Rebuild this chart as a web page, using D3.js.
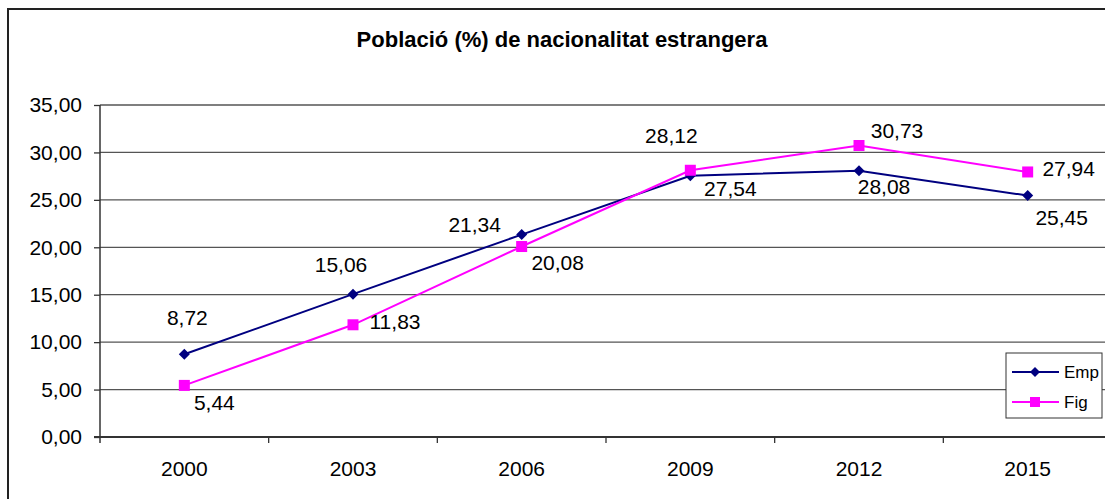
<!DOCTYPE html>
<html>
<head>
<meta charset="utf-8">
<script src="https://cdn.jsdelivr.net/npm/d3@7"></script>
<style>
  body { margin: 0; background: #fff; }
  text { font-family: "Liberation Sans", Arial, sans-serif; fill: #000; }
</style>
</head>
<body>
<script>
var years = ["2000", "2003", "2006", "2009", "2012", "2015"];
var empValues = [8.72, 15.06, 21.34, 27.54, 28.08, 25.45];
var figValues = [5.44, 11.83, 20.08, 28.12, 30.73, 27.94];
var yTicks = [0, 5, 10, 15, 20, 25, 30, 35];
var seriesNames = ["Emp", "Fig"];

var width = 1105, height = 499;
var plotLeft = 100, plotTop = 105, plotBottom = 437, plotRight = 1112;

// where each value label sits relative to its point (dx, baseline dy)
var labelNudge = {
  Emp: [[3, -29], [-12, -22], [-47, -3], [40, 20], [25, 23], [34, 29]],
  Fig: [[30, 25], [42, 4], [36, 23], [-19, -27], [38, -8], [41, 4]]
};

function comma(v) {
  return d3.format(".2f")(v).replace(".", ",");
}

function marker(sel, type, s) {
  if (type === "Emp") {
    sel.append("path")
      .attr("d", "M0," + (-s) + "L" + s + ",0L0," + s + "L" + (-s) + ",0Z")
      .attr("fill", "#000080");
  } else {
    sel.append("rect")
      .attr("x", -s).attr("y", -s)
      .attr("width", 2 * s).attr("height", 2 * s)
      .attr("fill", "#ff00ff");
  }
}

var svg = d3.select("body").append("svg").attr("width", width).attr("height", height);

// outer frame (goes past the right / bottom edge like the original)
svg.append("rect")
  .attr("x", 8).attr("y", 9)
  .attr("width", 1110).attr("height", 500)
  .attr("fill", "#fff")
  .attr("stroke", "#222")
  .attr("stroke-width", 2);

svg.append("text")
  .attr("x", 562).attr("y", 47)
  .attr("text-anchor", "middle")
  .style("font-size", "22px")
  .style("font-weight", "bold")
  .text("Població (%) de nacionalitat estrangera");

var x = d3.scaleBand().domain(years).range([plotLeft, plotRight]).paddingInner(0).paddingOuter(0);
var y = d3.scaleLinear().domain([0, 35]).range([plotBottom, plotTop]);

// gridlines
svg.append("g").selectAll("line")
  .data(yTicks.filter(function(d) { return d > 0; }))
  .enter().append("line")
  .attr("x1", plotLeft).attr("x2", plotRight)
  .attr("y1", function(d) { return y(d); })
  .attr("y2", function(d) { return y(d); })
  .attr("stroke", "#555")
  .attr("stroke-width", 1.3);

var yAxis = svg.append("g")
  .attr("transform", "translate(" + plotLeft + ",0)")
  .call(d3.axisLeft(y).tickValues(yTicks).tickFormat(comma).tickSize(6).tickPadding(12));
yAxis.select(".domain").attr("stroke", "#333").attr("stroke-width", 1.5).attr("d", "M0," + plotTop + "V" + (plotBottom + 6));
yAxis.selectAll(".tick line").attr("stroke", "#333").attr("stroke-width", 1.3);
yAxis.selectAll(".tick text").style("font-size", "21px").style("font-family", "Liberation Sans, Arial, sans-serif").attr("fill", "#000");

var xAxis = svg.append("g")
  .attr("transform", "translate(0," + plotBottom + ")")
  .call(d3.axisBottom(x).tickSize(0).tickPadding(24));
xAxis.select(".domain").attr("stroke", "#333").attr("stroke-width", 1.8).attr("d", "M" + (plotLeft - 6) + ",0H" + plotRight);
xAxis.selectAll(".tick text").style("font-size", "21px").style("font-family", "Liberation Sans, Arial, sans-serif").attr("fill", "#000");

// category boundary ticks
svg.append("g").selectAll("line")
  .data(years)
  .enter().append("line")
  .attr("x1", function(d) { return x(d) + x.bandwidth(); })
  .attr("x2", function(d) { return x(d) + x.bandwidth(); })
  .attr("y1", plotBottom).attr("y2", plotBottom + 6)
  .attr("stroke", "#333")
  .attr("stroke-width", 1.3);

var series = [
  { name: "Emp", values: empValues, color: "#000080" },
  { name: "Fig", values: figValues, color: "#ff00ff" }
];

var line = d3.line()
  .x(function(d, i) { return x(years[i]) + x.bandwidth() / 2; })
  .y(function(d) { return y(d); });

series.forEach(function(s) {
  svg.append("path")
    .datum(s.values)
    .attr("fill", "none")
    .attr("stroke", s.color)
    .attr("stroke-width", 2)
    .attr("d", line);
});

series.forEach(function(s) {
  var pts = svg.append("g").selectAll("g")
    .data(s.values)
    .enter().append("g")
    .attr("transform", function(d, i) {
      return "translate(" + (x(years[i]) + x.bandwidth() / 2) + "," + y(d) + ")";
    });
  marker(pts, s.name, 5.5);
});

series.forEach(function(s) {
  svg.append("g").selectAll("text")
    .data(s.values)
    .enter().append("text")
    .attr("x", function(d, i) { return x(years[i]) + x.bandwidth() / 2 + labelNudge[s.name][i][0]; })
    .attr("y", function(d, i) { return y(d) + labelNudge[s.name][i][1]; })
    .attr("text-anchor", "middle")
    .style("font-size", "21px")
    .text(function(d) { return comma(d); });
});

// legend
var legend = svg.append("g").attr("transform", "translate(1006,353)");
legend.append("rect")
  .attr("width", 96).attr("height", 65)
  .attr("fill", "#fff")
  .attr("stroke", "#333")
  .attr("stroke-width", 1);

seriesNames.forEach(function(name, i) {
  var s = series[i];
  var row = legend.append("g").attr("transform", "translate(0," + (19 + i * 30) + ")");
  row.append("line")
    .attr("x1", 6).attr("x2", 53)
    .attr("stroke", s.color)
    .attr("stroke-width", 2);
  var m = row.append("g").attr("transform", "translate(29,0)");
  marker(m, name, 5);
  row.append("text")
    .attr("x", 58).attr("y", 6)
    .style("font-size", "17px")
    .text(name);
});
</script>
</body>
</html>
